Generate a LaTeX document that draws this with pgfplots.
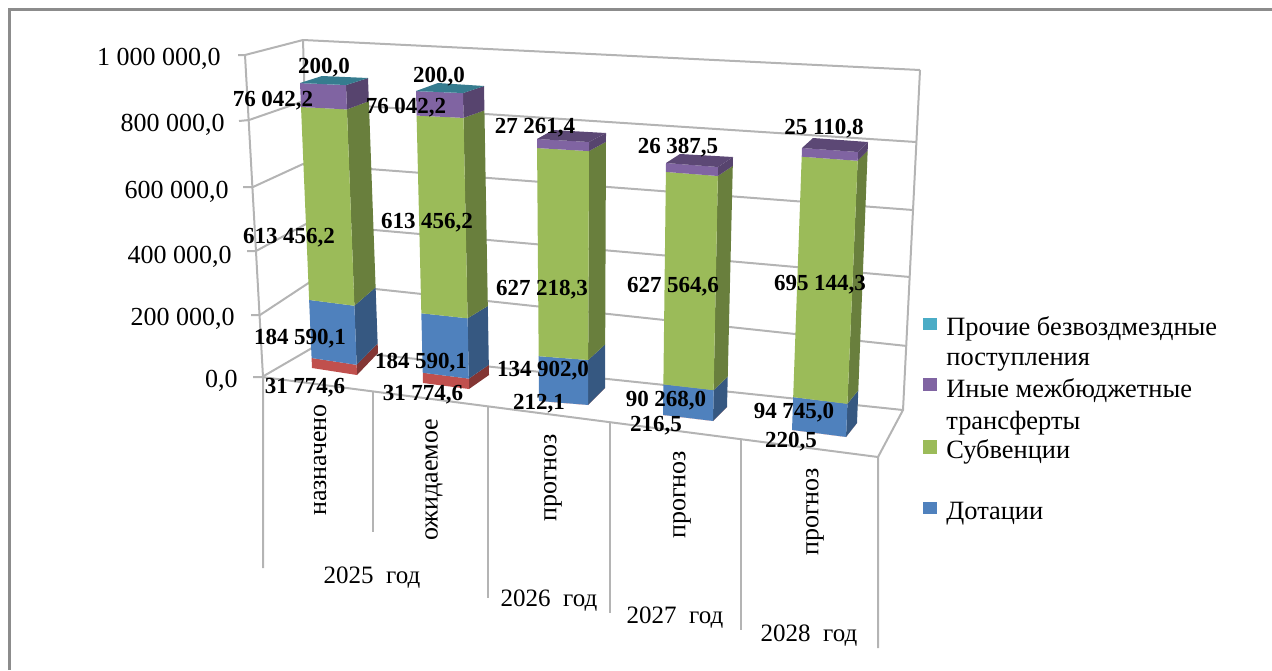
\documentclass[border=0pt]{standalone}
\usepackage{fontspec}
\setmainfont{Liberation Serif}
\usepackage{pgfplots}
\pgfplotsset{compat=1.18}

\definecolor{cTeal}{HTML}{4BACC6}
\definecolor{cPurple}{HTML}{8064A2}
\definecolor{cGreen}{HTML}{9BBB59}
\definecolor{cBlue}{HTML}{4F81BD}
\definecolor{cRed}{HTML}{C0504D}
\definecolor{cGrid}{HTML}{B4B4B4}
\definecolor{cFrame}{HTML}{8C8C8C}

% corners of a bar (pixels): front left, front right, back right at value 0 ...
\def\setfoot(#1,#2)(#3,#4)(#5,#6){\def\Ax{#1}\def\Ay{#2}\def\Bx{#3}\def\By{#4}\def\Cx{#5}\def\Cy{#6}}
% ... and front left, front right, back right, back left at the stack total
\def\settop(#1,#2)(#3,#4)(#5,#6)(#7,#8){\def\Dx{#1}\def\Dy{#2}\def\Ex{#3}\def\Ey{#4}\def\Fx{#5}\def\Fy{#6}\def\Gx{#7}\def\Gy{#8}}

\newcommand{\at}[3]{% name, foot, top
  \pgfmathsetmacro#1{#2+(#3-#2)*\t}}

% one stacked piece, value in thousands
\newcommand{\seg}[2]{%
  \pgfmathsetmacro\t{\cum/\total}%
  \at\pax\Ax\Dx\at\pay\Ay\Dy\at\pbx\Bx\Ex\at\pby\By\Ey\at\pcx\Cx\Fx\at\pcy\Cy\Fy
  \pgfmathsetmacro\newcum{\cum+#2}%
  \pgfmathsetmacro\t{\newcum/\total}%
  \at\qax\Ax\Dx\at\qay\Ay\Dy\at\qbx\Bx\Ex\at\qby\By\Ey\at\qcx\Cx\Fx\at\qcy\Cy\Fy
  \addplot[draw=none,fill=#1!68!black] coordinates {(\pbx,\pby)(\pcx,\pcy)(\qcx,\qcy)(\qbx,\qby)} -- cycle;
  \addplot[draw=none,fill=#1] coordinates {(\pax,\pay)(\pbx,\pby)(\qbx,\qby)(\qax,\qay)} -- cycle;
  \global\let\cum\newcum}
\newcommand{\topface}[1]{%
  \addplot[draw=none,fill=#1!72!black] coordinates {(\Dx,\Dy)(\Ex,\Ey)(\Fx,\Fy)(\Gx,\Gy)} -- cycle;}

\newcommand{\gridl}[1]{\addplot[cGrid,line width=1pt] coordinates {#1};}
\newcommand{\val}[3]{\node[font=\fontsize{11.5}{12}\selectfont\bfseries,inner sep=0pt,yshift=-0.75pt] at (axis cs:#1,#2) {#3};}
\newcommand{\tlab}[3]{\node[font=\fontsize{13}{14}\selectfont,anchor=east,inner sep=0pt,yshift=-0.8pt] at (axis cs:#1,#2) {#3};}
\newcommand{\cat}[3]{\node[font=\fontsize{13}{14}\selectfont,rotate=90,inner sep=0pt] at (axis cs:#1,#2) {#3};}
\newcommand{\yr}[3]{\node[font=\fontsize{12.5}{14}\selectfont,inner sep=0pt,yshift=-1.2pt] at (axis cs:#1,#2) {#3};}
\newcommand{\leg}[2]{\node[font=\fontsize{13.2}{14}\selectfont,anchor=west,inner sep=0pt,yshift=-1.1pt] at (axis cs:946,#1) {#2};}

\begin{document}
\begin{tikzpicture}
% hidden axis leaves no box of its own
\path[use as bounding box] (0,0) rectangle (636pt,335pt);
\begin{axis}[
  at={(0,0)}, anchor=south west,
  scale only axis, width=636pt, height=335pt,
  xmin=0, xmax=1272, ymin=0, ymax=670, y dir=reverse,
  hide axis, clip=false]

% frame, only top and left are in the picture
\addplot[cFrame,line width=1.2pt] coordinates {(9.5,670)(9.5,9.5)(1272,9.5)};

% walls
\gridl{(238,55)(245,55)(303,40)(920,70)}
\gridl{(239,121)(249,120)(301,102)(916,142)}
\gridl{(243,187)(253,187)(303,164)(913,210)}
\gridl{(247,251)(256,251)(306,224)(910,277)}
\gridl{(251,315)(260,315)(310,282)(907,346)}
\gridl{(253,377)(262,377)(312,348)(903,410)}
\gridl{(245,55)(263,377)(263,568)}
\gridl{(303,40)(312,348)}
\gridl{(920,70)(903,410)(878,457)}
\gridl{(262,377)(878,457)(878,648)}
\gridl{(373,391)(373,532)}
\gridl{(488,406)(488,598)}
\gridl{(610,422)(610,613)}
\gridl{(741,439)(741,630)}

% 2025 naznacheno
\def\cum{0}\def\total{906.0631}
\setfoot(312,368)(357,375)(378,353)\settop(300,83)(346,85)(368,78)(322,76)
\seg{cRed}{31.7746}\seg{cBlue}{184.5901}\seg{cGreen}{613.4562}\seg{cPurple}{76.0422}\seg{cTeal}{0.2}
\topface{cTeal}

% 2025 ozhidaemoe
\def\cum{0}\def\total{906.0631}
\setfoot(423,383)(469,389)(489,375)\settop(416,91)(463,93)(484,86)(438,83)
\seg{cRed}{31.7746}\seg{cBlue}{184.5901}\seg{cGreen}{613.4562}\seg{cPurple}{76.0422}\seg{cTeal}{0.2}
\topface{cTeal}

% 2026
\def\cum{0}\def\total{789.5938}
\setfoot(539,401)(588,405)(605,388)\settop(537,139)(589,142)(606,133)(553,130)
\seg{cRed}{0.2121}\seg{cBlue}{134.902}\seg{cGreen}{627.2183}\seg{cPurple}{27.2614}
\topface{cPurple}

% 2027
\def\cum{0}\def\total{744.4366}
\setfoot(663,415)(713,421)(727,407)\settop(666,163)(718,167)(733,157)(680,154)
\seg{cRed}{0.2165}\seg{cBlue}{90.268}\seg{cGreen}{627.5646}\seg{cPurple}{26.3875}
\topface{cPurple}

% 2028
\def\cum{0}\def\total{815.2206}
\setfoot(792,430)(846,437)(857,423)\settop(802,148)(858,152)(868,142)(813,138)
\seg{cRed}{0.2205}\seg{cBlue}{94.745}\seg{cGreen}{695.1443}\seg{cPurple}{25.1108}
\topface{cPurple}

% value axis
\tlab{221}{57}{1 000 000,0}
\tlab{225}{123}{800 000,0}
\tlab{229}{190}{600 000,0}
\tlab{232}{255}{400 000,0}
\tlab{235}{317}{200 000,0}
\tlab{238}{379}{0,0}

% categories
\cat{320}{460}{назначено}
\cat{434}{480}{ожидаемое}
\cat{553}{478}{прогноз}
\cat{682}{495}{прогноз}
\cat{815}{512}{прогноз}
\yr{372}{575}{2025\ \ год}
\yr{549}{598}{2026\ \ год}
\yr{675}{615}{2027\ \ год}
\yr{809}{633}{2028\ \ год}

% value labels
\val{324}{66}{200,0}
\val{273}{99}{76 042,2}
\val{289}{236}{613 456,2}
\val{300}{337}{184 590,1}
\val{305}{386}{31 774,6}
\val{439}{75}{200,0}
\val{406}{106}{76 042,2}
\val{427}{221}{613 456,2}
\val{421}{361}{184 590,1}
\val{423}{393}{31 774,6}
\val{535}{126}{27 261,4}
\val{542}{288}{627 218,3}
\val{543}{369}{134 902,0}
\val{539}{402}{212,1}
\val{678}{146}{26 387,5}
\val{673}{285}{627 564,6}
\val{666}{399}{90 268,0}
\val{656}{424}{216,5}
\val{824}{127}{25 110,8}
\val{820}{283}{695 144,3}
\val{794}{411}{94 745,0}
\val{791}{440}{220,5}

% legend
\addplot[draw=none,fill=cTeal] coordinates {(923,318)(937,318)(937,330)(923,330)} -- cycle;
\addplot[draw=none,fill=cPurple] coordinates {(923,378)(937,378)(937,391)(923,391)} -- cycle;
\addplot[draw=none,fill=cGreen] coordinates {(923,440)(937,440)(937,454)(923,454)} -- cycle;
\addplot[draw=none,fill=cBlue] coordinates {(923,502)(937,502)(937,514)(923,514)} -- cycle;
\leg{327}{Прочие безвоздмездные}
\leg{360}{поступления}
\leg{388}{Иные межбюджетные}
\leg{421}{трансферты}
\leg{450}{Субвенции}
\leg{511}{Дотации}
\end{axis}
\end{tikzpicture}
\end{document}
